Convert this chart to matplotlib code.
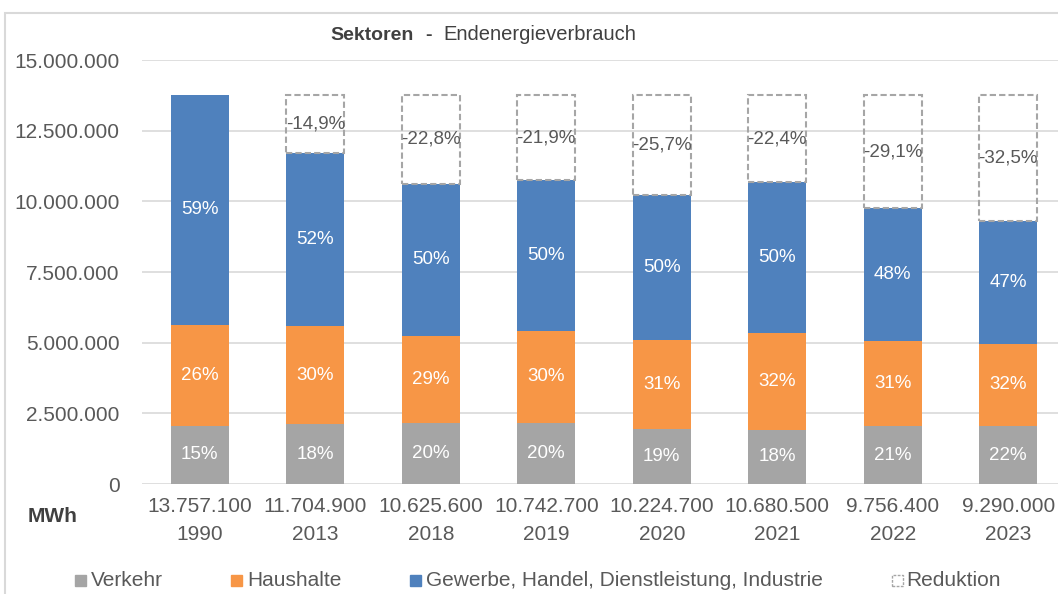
import matplotlib.pyplot as plt
from matplotlib.patches import Rectangle
import numpy as np

plt.rcParams['font.family'] = ['Liberation Sans', 'DejaVu Sans']

# data (MWh)
years = ['1990', '2013', '2018', '2019', '2020', '2021', '2022', '2023']
totals = [13757100, 11704900, 10625600, 10742700, 10224700, 10680500, 9756400, 9290000]
verkehr = [2060000, 2120000, 2150000, 2170000, 1940000, 1920000, 2050000, 2040000]
haushalte = [3580000, 3470000, 3100000, 3240000, 3170000, 3420000, 3020000, 2930000]
gewerbe = [8117100, 6114900, 5375600, 5332700, 5114700, 5340500, 4686400, 4320000]
verkehr_pct = ['15%', '18%', '20%', '20%', '19%', '18%', '21%', '22%']
haushalte_pct = ['26%', '30%', '29%', '30%', '31%', '32%', '31%', '32%']
gewerbe_pct = ['59%', '52%', '50%', '50%', '50%', '50%', '48%', '47%']

c_gray = '#A5A5A5'
c_orange = '#F79646'
c_blue = '#4F81BD'
c_text = '#595959'

W, H = 1058, 594
fig = plt.figure(figsize=(W / 100, H / 100), dpi=100)
ax = fig.add_axes([142 / W, 110 / H, 916 / W, 424 / H])

x = np.arange(len(years))
v = np.array(verkehr)
h = np.array(haushalte)
g = np.array(gewerbe)
base = totals[0]

bw = 0.5
ax.bar(x, v, bw, color=c_gray, zorder=3)
ax.bar(x, h, bw, bottom=v, color=c_orange, zorder=3)
ax.bar(x, g, bw, bottom=v + h, color=c_blue, zorder=3)

red = np.array([base - t for t in totals])
ax.bar(x[1:], red[1:], bw, bottom=np.array(totals)[1:], fill=False,
       edgecolor='#A6A6A6', linestyle=(0, (3, 1.5)), linewidth=1.5, zorder=3)

for i in range(len(years)):
    ax.text(x[i], v[i] / 2, verkehr_pct[i], ha='center', va='center',
            color='white', fontsize=13.5, zorder=4)
    ax.text(x[i], v[i] + h[i] / 2, haushalte_pct[i], ha='center', va='center',
            color='white', fontsize=13.5, zorder=4)
    ax.text(x[i], v[i] + h[i] + g[i] / 2, gewerbe_pct[i], ha='center', va='center',
            color='white', fontsize=13.5, zorder=4)
    if i > 0:
        pct = (base - totals[i]) / base * 100
        lab = '-' + f'{pct:.1f}'.replace('.', ',') + '%'
        ax.text(x[i], totals[i] + red[i] / 2, lab, ha='center', va='center',
                color=c_text, fontsize=13.5, zorder=4)

ax.set_ylim(0, 15000000)
ax.set_xlim(-0.5, 7.5 - 8 / 115.4)
yt = np.arange(0, 15000001, 2500000)
ax.set_yticks(yt)
ax.set_yticklabels([f'{t:,.0f}'.replace(',', '.') for t in yt], color=c_text, fontsize=15)
ax.set_xticks(x)
ax.set_xticklabels([f'{t:,.0f}'.replace(',', '.') + '\n' + y for t, y in zip(totals, years)],
                   color=c_text, fontsize=15, linespacing=1.6)
ax.tick_params(axis='both', length=0)
ax.tick_params(axis='y', pad=16)
ax.tick_params(axis='x', pad=9)
ax.grid(axis='y', color='#D9D9D9', linewidth=1.2, zorder=0)
for s in ax.spines.values():
    s.set_visible(False)

# title
ty = 1 - 35 / H
fig.text(330 / W, ty, 'Sektoren', fontsize=14, fontweight='bold',
         color='#404040', ha='left', va='center')
fig.text(425 / W, ty, '-', fontsize=14, fontweight='bold',
         color='#404040', ha='left', va='center')
fig.text(443 / W, ty, 'Endenergieverbrauch', fontsize=14.5,
         color='#404040', ha='left', va='center')
fig.text(28 / W, 1 - 517 / H, 'MWh', fontsize=15, fontweight='bold',
         color='#404040', ha='left', va='center')

# legend
ly = 1 - 580 / H
sq = 11
entries = [(75, c_gray, 'Verkehr'), (231, c_orange, 'Haushalte'),
           (410, c_blue, 'Gewerbe, Handel, Dienstleistung, Industrie')]
for px, col, lab in entries:
    fig.add_artist(Rectangle((px / W, ly - sq / 2 / H), sq / W, sq / H,
                             transform=fig.transFigure, color=col))
    fig.text((px + 16) / W, ly, lab, fontsize=15, color=c_text, va='center', ha='left')
fig.add_artist(Rectangle((892 / W, ly - sq / 2 / H), sq / W, sq / H,
                         transform=fig.transFigure, fill=False, edgecolor='#A6A6A6',
                         linestyle=(0, (2, 1)), linewidth=1))
fig.text(906 / W, ly, 'Reduktion', fontsize=15, color=c_text, va='center', ha='left')

# frame
fig.add_artist(Rectangle((5 / W, -0.1), 1.2, (H - 13) / H + 0.1,
                         transform=fig.transFigure, fill=False,
                         edgecolor='#D9D9D9', linewidth=1.5))

fig.savefig('out.png', dpi=100)
